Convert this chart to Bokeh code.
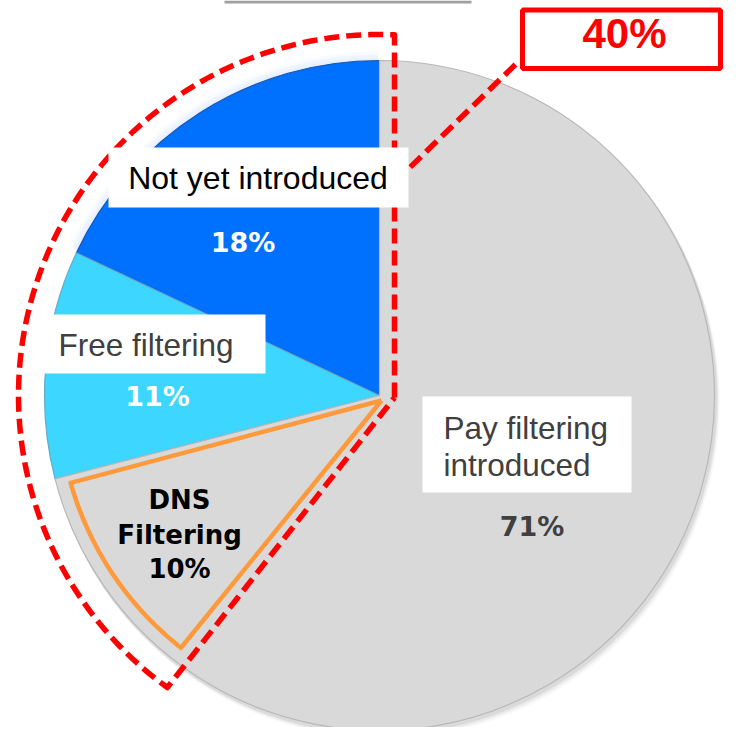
import numpy as np
from bokeh.plotting import figure
from bokeh.models import Range1d
from bokeh.core.properties import value
from bokeh.embed import file_html
from bokeh.resources import INLINE

# ---- data ----
categories = ["Not yet introduced", "Free filtering", "Pay filtering introduced"]
shares = [18, 11, 71]
pct_labels = ["18%", "11%", "71%"]
slice_colors = ["#0070FF", "#3CD6FF", "#D9D9D9"]
dns_lines = ["DNS", "Filtering", "10%"]
dns_share = 10
highlight_share = 40
highlight_label = "40%"

# ---- figure (data coords = picture pixel coords, y negated) ----
p = figure(width=724, height=727, x_range=Range1d(0, 724), y_range=Range1d(-727, 0),
           output_backend="svg", toolbar_location=None, min_border=0,
           x_axis_location=None, y_axis_location=None)
p.grid.visible = False
p.outline_line_color = None
p.background_fill_color = "white"
p.border_fill_color = "white"

cx, cy, R = 379, -395, 335
cum = np.concatenate([[0], np.cumsum(shares)])
starts = 90 + cum[:-1] * 3.6
ends = 90 + cum[1:] * 3.6

# soft shadow
for off, a in [(7, 0.06), (5, 0.10), (3, 0.16)]:
    p.circle(x=[cx + off * 0.6], y=[cy - off], radius=R + 1, fill_color="#808080",
             fill_alpha=a, line_color=None)

# glow around the first slice
for dr, a in [(9, 0.25), (6, 0.45), (3, 0.7)]:
    p.wedge(x=[cx], y=[cy], radius=R + dr, start_angle=[np.deg2rad(starts[0] + 0.3)],
            end_angle=[np.deg2rad(ends[0] - 0.5)], fill_color="#e4eeff", fill_alpha=a,
            line_color=None)

# slices
edge_colors = ["#1c55b0", "#6aaac4", "#b8b8b8"]
for i in range(len(shares)):
    s = np.deg2rad(starts[i] % 360)
    e = np.deg2rad(ends[i] % 360)
    p.wedge(x=[cx], y=[cy], radius=R, start_angle=[s], end_angle=[e],
            fill_color=slice_colors[i], line_color=edge_colors[i], line_width=1.2)

# DNS outline (sub-part of the pay slice)
d0 = 90 + (shares[0] + shares[1]) * 3.6 + 1.4
d1 = d0 + dns_share * 3.6
th = np.deg2rad(np.linspace(d0, d1, 60))
rd = 321
ox, oy = cx + 2, cy - 5
xs = [ox] + list(cx + rd * np.cos(th)) + [ox]
ys = [oy] + list(cy + rd * np.sin(th)) + [oy]
p.line(xs, ys, line_color="#FF9A3C", line_width=4.5, line_join="round")

# 40% highlight outline
rr = 361
ax, ay = 394, -397
t0 = np.degrees(np.arccos((ax - cx) / rr))
t1 = 90 + highlight_share * 3.6
th = np.deg2rad(np.linspace(t0, t1, 120))
xs = [ax] + list(cx + rr * np.cos(th)) + [ax]
ys = [ay] + list(cy + rr * np.sin(th)) + [ay]
p.line(xs, ys, line_color="#FF0000", line_width=5.5, line_dash="15 7", line_join="round")

# connector to the 40% box
p.line([ax, 518], [-182, -61], line_color="#FF0000", line_width=5.5, line_dash="15 7")

# label boxes
p.quad(left=[108, 37, 422], right=[408, 265, 631], top=[-147, -314, -396],
       bottom=[-207, -373, -492], fill_color="white", line_color=None)

# category labels
p.text(x=[257.5], y=[-177], text=[categories[0]], text_font=value("Liberation Sans"),
       text_font_size="32px", text_align="center", text_baseline="alphabetic",
       text_color="black")
p.text(x=[145.5], y=[-344], text=[categories[1]], text_font=value("Liberation Sans"),
       text_font_size="31.5px", text_align="center", text_baseline="alphabetic",
       text_color="#404040")
pay_words = categories[2].split(" ")
p.text(x=[443, 443], y=[-427, -464], text=[" ".join(pay_words[:2]), pay_words[2]],
       text_font=value("Liberation Sans"), text_font_size="31.5px", text_align="left",
       text_baseline="alphabetic", text_color="#404040")

# percentages
p.text(x=[242.5, 157, 531.5], y=[-242, -396, -526], text=pct_labels,
       text_font=value("DejaVu Sans"), text_font_style="bold", text_font_size="27px",
       text_align="center", text_baseline="alphabetic",
       text_color=["white", "white", "#404040"])

# DNS label
p.text(x=[179, 179, 179], y=[-499, -534, -568], text=dns_lines,
       text_font=value("DejaVu Sans"), text_font_style="bold", text_font_size="26px",
       text_align="center", text_baseline="alphabetic", text_color="black")

# 40% box
p.quad(left=[522], right=[720], top=[-9.5], bottom=[-68], fill_color="white",
       line_color="#FF0000", line_width=5)
p.text(x=[624], y=[-33], text=[highlight_label], text_font=value("Liberation Sans"),
       text_font_style="bold", text_font_size="42px", text_align="center",
       text_baseline="alphabetic", text_color="#FF0000")

# top rule of the (cut-off) title box
p.line([224, 471], [-1.5, -1.5], line_color="#a0a0a0", line_width=3)

open("out.html", "w").write(file_html(p, INLINE))
